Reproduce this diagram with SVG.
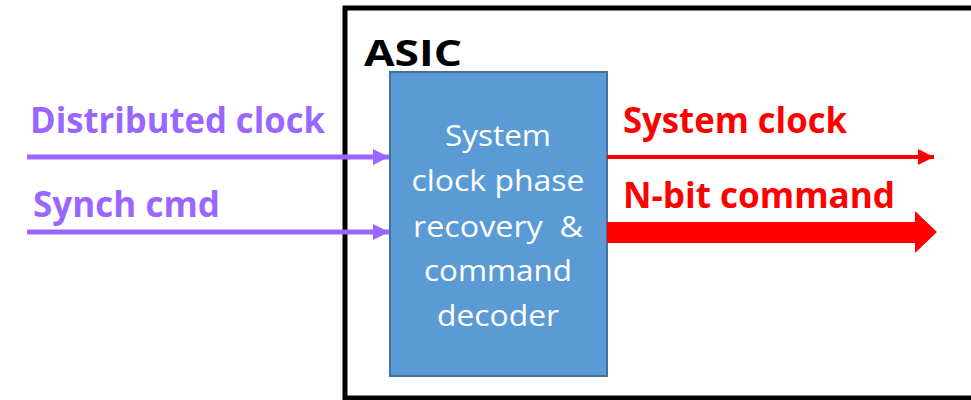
<svg xmlns="http://www.w3.org/2000/svg" width="971" height="400" viewBox="0 0 971 400">
  <style>
    .lbl { font-family: "Open Sans", "Noto Sans", "Liberation Sans", sans-serif; font-weight: bold; font-size: 35px; }
    .in { fill: #9966FF; }
    .out { fill: #FF0000; }
    .blk { font-family: "Open Sans", "Noto Sans", "Liberation Sans", sans-serif; font-size: 29px; fill: #FFFFFF; text-anchor: middle; white-space: pre; }
    .wire-in { stroke: #9966FF; stroke-width: 5; fill: none; }
    .wire-out { stroke: #FF0000; stroke-width: 4; fill: none; }
  </style>
  <defs>
    <marker id="headPurple" markerUnits="userSpaceOnUse" markerWidth="16" markerHeight="16" refX="16" refY="8" orient="auto">
      <path d="M0,0 L16,8 L0,16 Z" fill="#9966FF"/>
    </marker>
    <marker id="headRed" markerUnits="userSpaceOnUse" markerWidth="16" markerHeight="16" refX="16" refY="8" orient="auto">
      <path d="M0,0 L16,8 L0,16 Z" fill="#FF0000"/>
    </marker>
  </defs>

  <rect width="971" height="400" fill="#FFFFFF"/>

  <!-- chip outline -->
  <g id="asic">
    <rect x="345" y="8" width="640" height="390" fill="none" stroke="#000000" stroke-width="5"/>
    <text x="364" y="66" class="lbl" font-size="47" fill="#000000" textLength="98" lengthAdjust="spacingAndGlyphs">ASIC</text>
  </g>

  <!-- recovery / decoder block -->
  <g id="decoder">
    <rect x="390" y="72" width="217" height="304" fill="#5B9BD5" stroke="#41719C" stroke-width="2"/>
    <text x="498" y="146" class="blk" textLength="106" lengthAdjust="spacingAndGlyphs">System</text>
    <text x="498" y="191" class="blk" textLength="173" lengthAdjust="spacingAndGlyphs">clock phase</text>
    <text x="498" y="237" class="blk" xml:space="preserve" textLength="170" lengthAdjust="spacingAndGlyphs">recovery  &amp;</text>
    <text x="498" y="281" class="blk" textLength="148" lengthAdjust="spacingAndGlyphs">command</text>
    <text x="498" y="326" class="blk" textLength="122" lengthAdjust="spacingAndGlyphs">decoder</text>
  </g>

  <!-- signal labels -->
  <g id="labels">
    <text x="30" y="133" class="lbl in" textLength="295" lengthAdjust="spacingAndGlyphs">Distributed clock</text>
    <text x="33" y="217" class="lbl in" textLength="187" lengthAdjust="spacingAndGlyphs">Synch cmd</text>
    <text x="623" y="133" class="lbl out" textLength="224" lengthAdjust="spacingAndGlyphs">System clock</text>
    <text x="623" y="208" class="lbl out" textLength="272" lengthAdjust="spacingAndGlyphs">N-bit command</text>
  </g>

  <!-- connectors -->
  <g id="connectors">
    <line x1="27" y1="157" x2="389" y2="157" class="wire-in" marker-end="url(#headPurple)"/>
    <line x1="27" y1="232" x2="389" y2="232" class="wire-in" marker-end="url(#headPurple)"/>
    <line x1="607" y1="157" x2="934" y2="157" class="wire-out" marker-end="url(#headRed)"/>
    <path d="M607,222 L915,222 L915,211 L937,232 L915,253 L915,243 L607,243 Z" fill="#FF0000"/>
  </g>
</svg>
